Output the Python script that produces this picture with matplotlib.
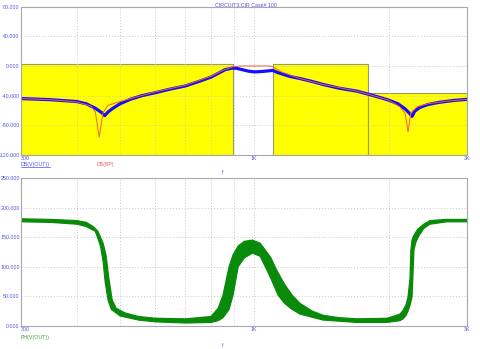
import matplotlib.pyplot as plt
import numpy as np
from matplotlib.lines import Line2D

# magnitude (top plot), dB
blue_f = [300, 350, 400, 420, 440, 455, 462, 470, 482, 500, 527, 560, 600, 650, 700,
          750, 800, 830, 860, 890, 910, 940, 970, 1000, 1040, 1080, 1100, 1130, 1200,
          1267, 1350, 1427, 1550, 1700, 1800, 1900, 2000, 2100, 2180, 2230, 2258, 2290,
          2350, 2450, 2600, 2800, 3000]
blue_db = [-44, -45.5, -48, -51, -57, -63, -67, -62, -57, -51, -45, -40, -36, -31, -27,
           -21, -15, -10, -5, -3, -3, -5, -7, -8, -7.5, -6.5, -6, -9, -14,
           -17, -21, -25, -30, -34, -38, -42, -46, -51, -58, -64, -68, -61,
           -56, -52, -49, -46.5, -45]

red_f = [300, 350, 400, 430, 440, 449, 458, 470, 500, 550, 600, 700, 800, 850, 896,
         930, 1000, 1080, 1100, 1150, 1267, 1427, 1700, 1800, 2000, 2120, 2180, 2212,
         2245, 2320, 2450, 2700, 3000]
red_db = [-44, -45.5, -48.5, -54, -62, -96, -63, -53, -48, -41, -35, -26, -14, -6, -1,
          0, 0, 0, -1, -8, -17, -25, -34, -38, -46, -55, -64, -89,
          -63, -55, -51, -47.5, -45]

# spec mask segments
mask_start = [300, 1100, 1800]
mask_end = [896, 1800, 3000]
mask_level = [3, 3, -37]

# phase (bottom plot): upper and lower envelope of the runs
ph_hi_f = [300, 350, 400, 420, 435, 446, 452, 458, 465, 472, 480, 490, 513, 550, 600,
           700, 800, 830, 851, 878, 896, 920, 950, 990, 1030, 1059, 1090, 1113, 1131,
           1170, 1216, 1267, 1350, 1427, 1550, 1700, 1985, 2122, 2156, 2190, 2212, 2235,
           2245, 2258, 2270, 2300, 2330, 2400, 2478, 2700, 3000]
ph_hi = [181, 180, 178, 175, 168, 160, 150, 140, 120, 80, 44, 30, 22, 16, 13,
         12, 16, 30, 52, 100, 120, 135, 143, 145, 140, 128, 115, 100, 90,
         70, 52, 38, 25, 18, 14, 12, 13, 20, 26, 36, 49, 80,
         128, 145, 150, 158, 164, 172, 178, 180, 180]
ph_lo_f = [300, 350, 400, 420, 440, 446, 452, 458, 463, 470, 478, 500, 550, 600, 700,
           800, 830, 851, 878, 896, 920, 950, 990, 1030, 1059, 1090, 1131, 1170, 1216,
           1267, 1427, 1700, 1985, 2122, 2156, 2190, 2212, 2235, 2258, 2270, 2280, 2300,
           2330, 2400, 2478, 2700, 3000]
ph_lo = [176, 175, 172, 168, 160, 148, 135, 110, 75, 44, 28, 17, 10, 7, 5,
         6, 9, 14, 28, 52, 100, 115, 123, 118, 100, 80, 52, 38, 28,
         20, 10, 6, 6, 9, 12, 18, 25, 35, 49, 90, 128, 140,
         150, 165, 172, 176, 176]

grid_f = [300, 400, 500, 600, 700, 800, 900, 1000, 2000, 3000]
grid_lbl = ['300', '', '', '', '', '', '', '1K', '', '3K']

axis_blue = '#5050e8'
grid_col = '#c8c8c8'
green = '#0a8a0a'

plt.rcParams['font.family'] = ['Liberation Sans', 'DejaVu Sans']
fig = plt.figure(figsize=(4.8, 3.49), dpi=100)


def style_axes(ax, yticks, ylbl):
    ax.set_xscale('log')
    ax.set_xlim(300, 3000)
    ax.set_xticks(grid_f)
    ax.set_xticklabels(grid_lbl)
    ax.xaxis.set_minor_locator(plt.NullLocator())
    ax.set_yticks(yticks)
    ax.set_yticklabels(ylbl)
    ax.set_ylim(yticks[0], yticks[-1])
    ax.tick_params(length=0, labelsize=3.8, colors=axis_blue, pad=1)
    ax.xaxis.get_ticklabels()[0].set_horizontalalignment('left')
    ax.grid(True, color=grid_col, linestyle=(0, (1, 2)), linewidth=0.7)
    for s in ax.spines.values():
        s.set_color('#a8a8a8')
        s.set_linewidth(0.8)


ax1 = fig.add_axes([0.044, 0.556, 0.929, 0.425])
for a, b, lv in zip(mask_start, mask_end, mask_level):
    ax1.fill_between([a, b], [lv, lv], -120, facecolor='#ffff00',
                     edgecolor='#9a9a70', linewidth=0.8, zorder=1)
ax1.plot(blue_f, blue_db, color='#1010ff', linewidth=2.3, zorder=2)
ax1.plot(red_f, red_db, color='#ff5a30', linewidth=0.7, zorder=3)
yt1 = [-120, -80, -40, 0, 40, 80]
style_axes(ax1, yt1, ['%.3f' % v for v in yt1])

ax2 = fig.add_axes([0.044, 0.066, 0.929, 0.424])
band_x = np.concatenate([ph_hi_f, ph_lo_f[::-1]])
band_y = np.concatenate([ph_hi, ph_lo[::-1]])
ax2.fill(band_x, band_y, color=green, linewidth=0, zorder=2)
ax2.plot(ph_hi_f, ph_hi, color=green, linewidth=0.9, zorder=2)
ax2.plot(ph_lo_f, ph_lo, color=green, linewidth=0.9, zorder=2)
yt2 = [0, 50, 100, 150, 200, 250]
style_axes(ax2, yt2, ['%.3f' % v for v in yt2])

fig.text(0.447, 0.992, 'CIRCUIT3.CIR Case# 100', fontsize=3.8, color=axis_blue,
         ha='left', va='top')
lbl = fig.text(0.044, 0.53, 'DB(V(OUT))', fontsize=3.8, color=axis_blue, ha='left', va='center')
fig.text(0.202, 0.53, 'DB(BP)', fontsize=3.8, color='#e06060', ha='left', va='center')
fig.text(0.462, 0.507, 'f', fontsize=3.8, color=axis_blue, ha='left', va='center')
fig.text(0.044, 0.034, 'PH(V(OUT))', fontsize=3.8, color='#30a030', ha='left', va='center')
fig.text(0.462, 0.011, 'f', fontsize=3.8, color=axis_blue, ha='left', va='center')

# underline the active trace name
fig.canvas.draw()
bb = lbl.get_window_extent().transformed(fig.transFigure.inverted())
fig.add_artist(Line2D([bb.x0, bb.x1], [bb.y0 - 0.002, bb.y0 - 0.002],
                      color=axis_blue, linewidth=0.5))

fig.savefig('out.png', dpi=100, facecolor='white')
